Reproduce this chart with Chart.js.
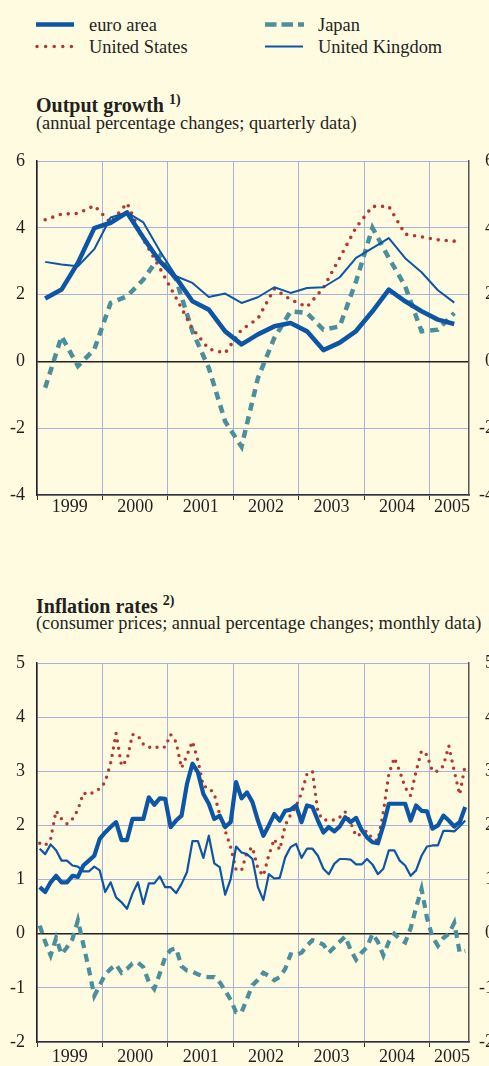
<!DOCTYPE html>
<html>
<head>
<meta charset="utf-8">
<script src="https://cdn.jsdelivr.net/npm/chart.js@4.4.1/dist/chart.umd.min.js"></script>
<style>
  html, body { margin: 0; padding: 0; background: #fefbe1; width: 489px; height: 1066px; overflow: hidden; }
  body { position: relative; font-family: "Liberation Serif", "Times New Roman", serif; color: #231f20; }
  .t { position: absolute; white-space: nowrap; line-height: 1; font-size: 18.4px; }
  .b { font-size: 20px; font-weight: bold; }
  .sup { font-size: 14px; position: relative; top: -8px; }
  canvas { position: absolute; left: 0; }
</style>
</head>
<body>
<svg width="489" height="60" style="position:absolute;left:0;top:0">
  <line x1="36" y1="24.5" x2="74" y2="24.5" stroke="#0d56a6" stroke-width="4.5"/>
  <line x1="37" y1="46.5" x2="74" y2="46.5" stroke="#b3382f" stroke-width="3.5" stroke-linecap="round" stroke-dasharray="0 8.6"/>
  <line x1="265" y1="24.5" x2="304" y2="24.5" stroke="#4b8e9c" stroke-width="4.5" stroke-dasharray="11.5 5"/>
  <line x1="265" y1="46.5" x2="303" y2="46.5" stroke="#0d56a6" stroke-width="2"/>
</svg>
<div class="t" style="left:89px;top:16.2px">euro area</div>
<div class="t" style="left:89px;top:37.8px">United States</div>
<div class="t" style="left:318px;top:16.2px">Japan</div>
<div class="t" style="left:318px;top:37.8px">United Kingdom</div>

<div class="t b" style="left:36px;top:95px">Output growth <span class="sup">1)</span></div>
<div class="t" style="left:36px;top:113.6px">(annual percentage changes; quarterly data)</div>

<div class="t b" style="left:36px;top:595.5px">Inflation rates <span class="sup">2)</span></div>
<div class="t" style="left:36px;top:613.6px">(consumer prices; annual percentage changes; monthly data)</div>

<canvas id="gdp" width="494" height="385" style="top:140px"></canvas>
<canvas id="cpi" width="494" height="432" style="top:640px"></canvas>

<script>
const years = ["1999", "2000", "2001", "2002", "2003", "2004", "2005"];

// output growth, quarterly, 1999 Q1 - 2005 Q2
const gdpEuro = [1.88, 2.15, 2.95, 3.99, 4.15, 4.46, 3.7, 3.0, 2.5, 1.8, 1.55, 0.9, 0.51,
  0.81, 1.05, 1.15, 0.9, 0.34, 0.56, 0.91, 1.5, 2.15, 1.8, 1.5, 1.25, 1.12];
const gdpUS = [4.24, 4.41, 4.43, 4.66, 4.15, 4.74, 3.65, 2.8, 1.9, 0.98, 0.37, 0.25, 0.95,
  1.28, 2.17, 1.85, 1.63, 2.2, 3.1, 4.01, 4.64, 4.64, 3.81, 3.73, 3.64, 3.6];
const gdpJapan = [-0.79, 0.75, -0.14, 0.36, 1.75, 1.95, 2.45, 3.15, 2.45, 0.9, -0.2, -1.8, -2.55,
  -0.5, 0.7, 1.5, 1.45, 0.95, 1.05, 2.4, 4.0, 3.1, 2.25, 0.9, 0.95, 1.45];
const gdpUK = [2.98, 2.9, 2.85, 3.36, 4.31, 4.46, 4.16, 3.31, 2.55, 2.35, 1.93, 2.03, 1.75,
  1.92, 2.22, 2.05, 2.2, 2.22, 2.52, 3.1, 3.39, 3.69, 3.09, 2.67, 2.13, 1.76];

// inflation, monthly, Jan 1999 - Jul 2005
const cpiEuro = [0.86, 0.77, 0.95, 1.07, 0.95, 0.95, 1.07, 1.05, 1.26, 1.35, 1.44, 1.75,
  1.87, 1.97, 2.06, 1.73, 1.73, 2.12, 2.12, 2.12, 2.52, 2.38, 2.5, 2.49,
  1.97, 2.09, 2.18, 2.77, 3.14, 2.98, 2.58, 2.4, 2.12, 2.18, 1.97, 2.06,
  2.8, 2.5, 2.61, 2.43, 2.09, 1.81, 2.0, 2.21, 2.09, 2.27, 2.29, 2.37,
  2.06, 2.37, 2.34, 2.09, 1.87, 1.97, 1.89, 1.98, 2.15, 2.06, 2.14, 1.92,
  1.78, 1.69, 1.67, 2.0, 2.4, 2.4, 2.4, 2.4, 2.09, 2.37, 2.27, 2.26,
  1.94, 2.0, 2.18, 2.09, 1.98, 2.06, 2.34];
const cpiUS = [1.67, 1.63, 1.75, 2.27, 2.12, 2.03, 2.12, 2.29, 2.6, 2.57, 2.62, 2.68,
  2.8, 3.15, 3.7, 3.1, 3.21, 3.68, 3.66, 3.5, 3.44, 3.46, 3.43, 3.45,
  3.68, 3.54, 3.06, 3.3, 3.55, 3.2, 2.72, 2.7, 2.58, 2.2, 1.9, 1.6,
  1.18, 1.17, 1.5, 1.6, 1.2, 1.07, 1.45, 1.75, 1.55, 2.0, 2.2, 2.35,
  2.6, 2.95, 3.0, 2.24, 2.1, 2.1, 2.1, 2.15, 2.25, 2.05, 1.8, 1.85,
  1.9, 1.75, 1.72, 2.25, 2.95, 3.25, 3.0, 2.7, 2.55, 3.0, 3.38, 3.3,
  3.0, 3.0, 3.1, 3.47, 3.0, 2.57, 3.12];
const cpiJapan = [0.15, -0.15, -0.4, -0.08, -0.38, -0.25, -0.1, 0.25, -0.2, -0.65, -1.15, -0.95,
  -0.75, -0.65, -0.57, -0.72, -0.65, -0.55, -0.53, -0.62, -0.89, -1.02, -0.74, -0.43,
  -0.3, -0.27, -0.6, -0.68, -0.7, -0.75, -0.79, -0.8, -0.8, -0.9, -1.05, -1.22,
  -1.45, -1.45, -1.2, -0.95, -0.85, -0.72, -0.78, -0.86, -0.8, -0.65, -0.38, -0.4,
  -0.35, -0.22, -0.12, -0.15, -0.2, -0.35, -0.25, -0.15, -0.05, -0.3, -0.48, -0.35,
  -0.25, 0.0, -0.15, -0.4, -0.15, 0.0, -0.1, -0.16, 0.1, 0.48, 0.83, 0.29,
  -0.06, -0.22, -0.08, 0.0, 0.2, -0.35, -0.32];
const cpiUK = [1.57, 1.47, 1.65, 1.54, 1.35, 1.35, 1.26, 1.24, 1.15, 1.15, 1.24, 1.17,
  0.77, 0.95, 0.67, 0.58, 0.46, 0.74, 0.95, 0.55, 0.93, 0.93, 1.06, 0.86,
  0.86, 0.75, 0.92, 1.14, 1.71, 1.71, 1.4, 1.81, 1.3, 1.23, 0.72, 1.01,
  1.61, 1.5, 1.47, 1.38, 0.86, 0.62, 1.1, 1.02, 1.03, 1.41, 1.6, 1.66,
  1.4, 1.57, 1.57, 1.44, 1.2, 1.1, 1.29, 1.38, 1.38, 1.37, 1.28, 1.28,
  1.38, 1.28, 1.1, 1.2, 1.54, 1.54, 1.35, 1.26, 1.07, 1.17, 1.44, 1.61,
  1.63, 1.63, 1.9, 1.9, 1.89, 1.98, 2.09];

const BLUE = "#0d56a6";
const RED = "#b3382f";
const TEAL = "#4b8e9c";
const GRID = "#a7b1dc";
const TEXT = "#231f20";
const FONT = { family: "Liberation Serif", size: 18, lineHeight: 1 };
const xMin = 1999, xMax = 2005.6;
const canvasW = 494, plotRight = 469;

function yearTicks() {
  const t = [];
  years.forEach((y, i) => {
    const v = Number(y);
    t.push({ value: v });
    // label sits in the middle of each year (or of the partial last year)
    t.push({ value: i < years.length - 1 ? v + 0.5 : v + 0.34 });
  });
  return t;
}

function series(values, perYear) {
  return values.map((v, i) => ({ x: 1999 + (i + 0.5) / perYear, y: v }));
}

function makeDatasets(euro, us, japan, uk, perYear, w) {
  const common = { pointRadius: 0, fill: false, tension: 0, borderJoinStyle: "round" };
  return [
    { ...common, label: "euro area", data: series(euro, perYear), borderColor: BLUE, borderWidth: w.euro, order: 0 },
    { ...common, label: "United Kingdom", data: series(uk, perYear), borderColor: BLUE, borderWidth: w.uk, order: 1 },
    { ...common, label: "United States", data: series(us, perYear), borderColor: RED, borderWidth: w.us,
      borderDash: [0, w.dot], borderCapStyle: "round", order: 2 },
    { ...common, label: "Japan", data: series(japan, perYear), borderColor: TEAL, borderWidth: w.jp,
      borderDash: [8, 6], borderCapStyle: "butt", borderJoinStyle: "miter", order: 3 },
  ];
}

function makeScales(min, max, step, labelPad) {
  const isYear = (c) => c.tick && Number.isInteger(c.tick.value);
  const yTicks = { stepSize: step, color: TEXT, font: FONT };
  return {
    x: {
      type: "linear", min: xMin, max: xMax,
      afterBuildTicks: (s) => { s.ticks = yearTicks(); },
      afterFit: (s) => { s.height = 30; },
      ticks: {
        autoSkip: false, maxRotation: 0, minRotation: 0, padding: labelPad,
        color: TEXT, font: FONT,
        callback: (v, i) => (i % 2 ? years[(i - 1) / 2] : ""),
      },
      grid: {
        color: (c) => (isYear(c) ? GRID : "rgba(0,0,0,0)"),
        tickColor: (c) => (isYear(c) ? "#333" : "rgba(0,0,0,0)"),
        tickLength: 5, lineWidth: 1,
      },
      border: { color: "#333", width: 1.5 },
    },
    y: {
      min: min, max: max,
      afterFit: (s) => { s.width = 37; },
      ticks: { ...yTicks, padding: 12 },
      grid: {
        color: (c) => (c.tick.value === 0 ? "#222" : GRID),
        lineWidth: (c) => (c.tick.value === 0 ? 1.5 : 1),
        drawTicks: false,
      },
      border: { color: "#222", width: 1.5 },
    },
    y2: {
      position: "right", min: min, max: max,
      afterFit: (s) => { s.width = canvasW - plotRight; },
      ticks: { ...yTicks, padding: 10, crossAlign: "far" },
      grid: { drawOnChartArea: false, drawTicks: false },
      border: { color: "#555", width: 1.5 },
    },
  };
}

function makeChart(id, datasets, scales, padTop) {
  return new Chart(document.getElementById(id), {
    type: "line",
    data: { datasets: datasets },
    options: {
      responsive: false, animation: false, devicePixelRatio: 1,
      layout: { padding: { top: padTop, left: 0, right: 0, bottom: 0 } },
      plugins: { legend: { display: false }, tooltip: { enabled: false } },
      scales: scales,
    },
  });
}

makeChart("gdp",
  makeDatasets(gdpEuro, gdpUS, gdpJapan, gdpUK, 4, { euro: 4.6, uk: 2, us: 3.6, jp: 4.5, dot: 8 }),
  makeScales(-4, 6, 2, -1.5), 21);

makeChart("cpi",
  makeDatasets(cpiEuro, cpiUS, cpiJapan, cpiUK, 12, { euro: 4.2, uk: 2.2, us: 3.4, jp: 4.2, dot: 7.5 }),
  makeScales(-2, 5, 1, 1.5), 23);
</script>
</body>
</html>
